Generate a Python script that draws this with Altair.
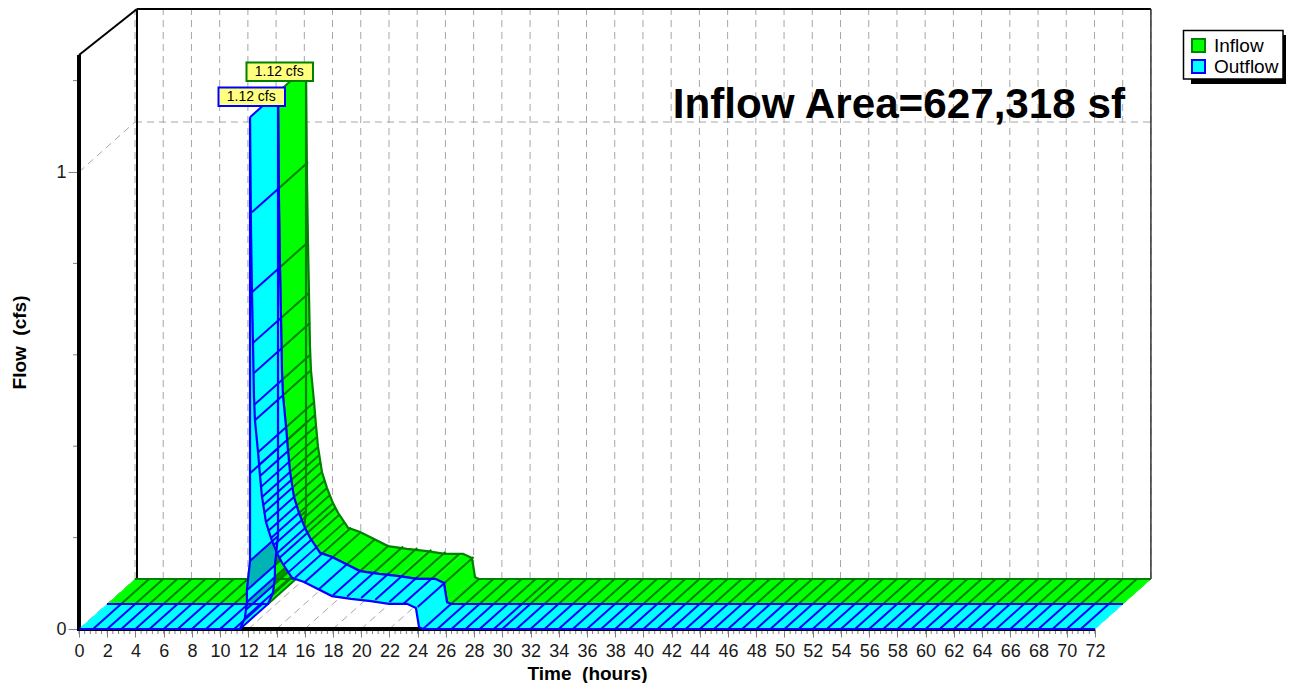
import altair as alt
import pandas as pd

FONT = "Liberation Sans"
PX_PER_HOUR = 14.11
PX_PER_CFS = 457.0
PLOT_W = 1072
PLOT_H = 621
DEPTH_T = 28 / PX_PER_HOUR
DEPTH_F = 25 / PX_PER_CFS
WALL_T = 58 / PX_PER_HOUR

# Hydrograph outline (inflow and outflow coincide)
flow_hours = [0, 11.41, 11.76, 11.83, 11.90, 11.90, 12.12, 12.12, 12.12,
              12.19, 12.26, 12.33, 12.40, 12.47, 12.69, 12.83, 12.97, 13.25,
              13.61, 14.03, 14.39, 15.10, 15.95, 17.93, 19.28, 20.69, 21.97,
              23.25, 23.88, 24.10, 24.38, 72]
flow_cfs = [0, 0, 0.024, 0.042, 0.059, 0.085, 0.149, 0.341, 1.12,
            0.873, 0.737, 0.626, 0.510, 0.457, 0.387, 0.335, 0.289, 0.234,
            0.199, 0.166, 0.145, 0.112, 0.103, 0.072, 0.066, 0.061, 0.055,
            0.055, 0.046, 0.004, 0, 0]
inflow_hours, inflow_cfs = flow_hours, flow_cfs
outflow_hours, outflow_cfs = flow_hours, flow_cfs

# Hatch stations along the ribbons
hatch_hours = [1, 2, 3, 4, 5, 6, 7, 8, 9, 10, 11, 11.41, 11.76, 11.83, 11.90,
               11.90, 12.12, 12.12, 12.12,
               12.26, 12.26, 12.33, 12.40, 12.40, 12.47, 12.69, 12.76, 12.83,
               12.90, 12.97, 13.04, 13.11, 13.25, 13.39, 13.61, 13.75, 14.03,
               14.17, 14.46, 14.88, 15.31, 15.95, 17, 18, 19, 20, 21, 22, 23,
               24, 24.38, 25.4, 26.4, 27.4, 28.4, 29.4, 30, 31, 32, 33, 34, 35,
               36, 37, 38, 39, 40, 41, 42, 43, 44, 45, 46, 47, 48, 49, 50, 51,
               52, 53, 54, 55, 56, 57, 58, 59, 60, 61, 62, 63, 64, 65, 66, 67,
               68, 69, 70, 71]
hatch_cfs = [0, 0, 0, 0, 0, 0, 0, 0, 0, 0, 0, 0, 0.024, 0.042, 0.059,
             0.085, 0.149, 0.341, 1.12,
             0.912, 0.737, 0.626, 0.560, 0.490, 0.457, 0.387, 0.359, 0.335,
             0.311, 0.289, 0.271, 0.254, 0.234, 0.214, 0.199, 0.182, 0.166,
             0.155, 0.140, 0.125, 0.112, 0.101, 0.087, 0.074, 0.071, 0.068,
             0.064, 0.059, 0.055, 0.048, 0, 0, 0, 0, 0, 0, 0, 0, 0, 0, 0, 0,
             0, 0, 0, 0, 0, 0, 0, 0, 0, 0, 0, 0, 0, 0, 0, 0, 0, 0, 0, 0, 0,
             0, 0, 0, 0, 0, 0, 0, 0, 0, 0, 0, 0, 0, 0, 0]

# Rising-limb facets that are drawn in a darker shade (index into the outline)
shaded_facets = [3, 5]

series_names = ["Inflow", "Outflow"]
fill_colors = ["#00FF00", "#00FFFF"]
shade_colors = ["#009A00", "#00B4B4"]
edge_colors = ["#008000", "#0000FF"]

time_ticks = list(range(0, 74, 2))
minor_ticks = [i * 0.4 for i in range(0, 181)]
flow_major = [0, 1]
flow_minor = [0.2, 0.4, 0.6, 0.8, 1.2]
peak_labels = ["1.12 cfs", "1.12 cfs"]
annotation = "Inflow Area=627,318 sf"


def X(field="x", axis=None):
    return alt.X(f"{field}:Q",
                 scale=alt.Scale(domain=[0, PLOT_W / PX_PER_HOUR], nice=False, zero=False),
                 axis=axis)


def Y(field="y", axis=None):
    return alt.Y(f"{field}:Q",
                 scale=alt.Scale(domain=[0, PLOT_H / PX_PER_CFS], nice=False, zero=False),
                 axis=axis)


def rules(rows, **mark):
    return alt.Chart(pd.DataFrame(rows)).mark_rule(**mark).encode(
        x=X(), x2="x2:Q", y=Y(), y2="y2:Q")


def ribbon(hours, cfs, hatch_t, hatch_f, d, k):
    """Fill facets, edges and hatch of a ribbon between depth d and d+1."""
    quads = []
    for i in range(len(hours) - 1):
        corners = [(hours[i], cfs[i], d), (hours[i + 1], cfs[i + 1], d),
                   (hours[i + 1], cfs[i + 1], d + 1), (hours[i], cfs[i], d + 1)]
        shade = shade_colors[k] if i in shaded_facets else fill_colors[k]
        for v, (t, f, dd) in enumerate(corners):
            quads.append({"x": t + dd * DEPTH_T, "y": f + dd * DEPTH_F,
                          "quad": i, "v": v, "shade": shade})
    fill = alt.Chart(pd.DataFrame(quads)).mark_line(strokeWidth=0.5, interpolate="linear").encode(
        x=X(), y=Y(), detail="quad:N", order="v:Q",
        fill=alt.Fill("shade:N", scale=None, legend=None),
        stroke=alt.Stroke("shade:N", scale=None, legend=None))
    edges = []
    for dd in (d, d + 1):
        for i, (t, f) in enumerate(zip(hours, cfs)):
            edges.append({"x": t + dd * DEPTH_T, "y": f + dd * DEPTH_F, "edge": dd, "i": i})
    edge = alt.Chart(pd.DataFrame(edges)).mark_line(
        color=edge_colors[k], strokeWidth=2.2).encode(
        x=X(), y=Y(), detail="edge:N", order="i:Q")
    hatch = rules([{"x": t + d * DEPTH_T, "y": f + d * DEPTH_F,
                    "x2": t + (d + 1) * DEPTH_T, "y2": f + (d + 1) * DEPTH_F}
                   for t, f in zip(hatch_t, hatch_f)],
                  color=edge_colors[k], strokeWidth=2)
    return [fill, edge, hatch]


GRID = dict(color="#A6A6A6", strokeWidth=1, strokeDash=[7, 5])
BASE_F = 2 * DEPTH_F
BASE_T = 2 * DEPTH_T
TOP_F = (PLOT_H - 1) / PX_PER_CFS

layers = []

# Marker hidden behind the front ribbon that carries the real legend
legend_df = pd.DataFrame({"series": series_names, "x": [31, 31], "y": [0.0273, 0.0273]})

# legend shadow and frame
def box(x0, x1, y0, y1, **kw):
    return alt.Chart(pd.DataFrame({"a": [0]})).mark_rect(**kw).encode(
        x=alt.value(x0 - 79), x2=alt.value(x1 - 79), y=alt.value(y0 - 8), y2=alt.value(y1 - 8))

layers.append(box(1191, 1286, 35, 84, color="#000000"))
layers.append(box(1183.5, 1283, 30.5, 79, fill="#FFFFFF", stroke="#000000", strokeWidth=1.5))

# back wall grid
layers.append(rules([{"x": t + BASE_T, "y": BASE_F, "x2": t + BASE_T, "y2": TOP_F} for t in time_ticks], **GRID))
layers.append(rules([{"x": t, "y": 0, "x2": t + BASE_T, "y2": BASE_F} for t in time_ticks], **GRID))
layers.append(rules([{"x": BASE_T, "y": 1 + BASE_F, "x2": 72 + BASE_T, "y2": 1 + BASE_F},
                     {"x": 0, "y": 1, "x2": BASE_T, "y2": 1 + BASE_F}], **GRID))
# walls
layers.append(rules([{"x": WALL_T, "y": BASE_F, "x2": WALL_T, "y2": TOP_F},
                     {"x": WALL_T, "y": TOP_F, "x2": 72 + BASE_T, "y2": TOP_F},
                     {"x": 0, "y": 1.256, "x2": WALL_T, "y2": TOP_F}],
                    color="#000000", strokeWidth=2))
layers.append(rules([{"x": 72 + BASE_T, "y": BASE_F, "x2": 72 + BASE_T, "y2": TOP_F}],
                    color="#333333", strokeWidth=1.5))
# minor ticks
layers.append(rules([{"x": t, "y": 0, "x2": t, "y2": -5 / PX_PER_CFS} for t in minor_ticks],
                    color="#808080", strokeWidth=1))
layers.append(rules([{"x": -6 / PX_PER_HOUR, "y": f, "x2": 0, "y2": f} for f in flow_minor],
                    color="#808080", strokeWidth=1))

# axes and thick front frame
x_axis = alt.Axis(values=time_ticks, title="Time\u00a0\u00a0(hours)", domain=False, grid=False,
                  labelFont=FONT, labelFontSize=18, labelColor="#1A1A1A", labelPadding=5,
                  labelOverlap=False, labelFlush=False, labelAngle=0, format="d",
                  tickColor="#808080", tickSize=8, tickWidth=1,
                  titleFont=FONT, titleFontSize=19, titleFontWeight="bold", titleColor="#000000",
                  titleX=508, titleY=44, titleAlign="center", titleBaseline="middle")
y_axis = alt.Axis(values=flow_major, title="Flow\u00a0\u00a0(cfs)", domain=False, grid=False,
                  labelFont=FONT, labelFontSize=18, labelColor="#1A1A1A", labelPadding=2, format="d",
                  tickColor="#808080", tickSize=11, tickWidth=1,
                  titleFont=FONT, titleFontSize=19, titleFontWeight="bold", titleColor="#000000",
                  titleX=-60, titleY=334, titleAngle=-90, titleAlign="center", titleBaseline="middle")
frame_df = pd.DataFrame({"x": [0, 0, 72], "y": [1.256, 0, 0], "i": [0, 1, 2]})
layers.append(alt.Chart(frame_df).mark_line(color="#000000", strokeWidth=4).encode(
    x=X(axis=x_axis), y=Y(axis=y_axis), order="i:Q"))

# legend carrier
legend_kw = dict(title=None, orient="none", legendX=1110, legendY=28,
                 symbolType="square", symbolSize=169, symbolStrokeWidth=2,
                 labelFont=FONT, labelFontSize=19, labelColor="#000000",
                 rowPadding=0, padding=0, labelOffset=6, labelLimit=200, symbolOpacity=1)
layers.append(alt.Chart(legend_df).mark_square(filled=True, size=100, strokeWidth=1, opacity=1).encode(
    x=X(), y=Y(),
    fill=alt.Fill("series:N", scale=alt.Scale(domain=series_names, range=fill_colors),
                  legend=alt.Legend(**legend_kw)),
    stroke=alt.Stroke("series:N", scale=alt.Scale(domain=series_names, range=edge_colors),
                      legend=alt.Legend(**legend_kw))))

# ribbons, back first
layers += ribbon(inflow_hours, inflow_cfs, hatch_hours, hatch_cfs, 1, 0)
layers += ribbon(outflow_hours, outflow_cfs, hatch_hours, hatch_cfs, 0, 1)

# peak labels
for (x0, x1, y0, y1), color, text in zip(
        [(246.5, 313, 62.5, 81), (218.5, 285, 87.5, 106)], edge_colors, peak_labels):
    layers.append(box(x0, x1, y0, y1, fill="#FFFF80", stroke=color, strokeWidth=2))
    layers.append(alt.Chart(pd.DataFrame({"t": [text]})).mark_text(
        font=FONT, fontSize=14, color="#000000", align="center", baseline="middle").encode(
        x=alt.value((x0 + x1) / 2 - 79.5), y=alt.value((y0 + y1) / 2 - 8), text="t:N"))

# area annotation
layers.append(alt.Chart(pd.DataFrame({"t": [annotation]})).mark_text(
    font=FONT, fontSize=42.2, fontWeight="bold", color="#000000", align="right", baseline="middle").encode(
    x=alt.value(1125 - 79), y=alt.value(104.5 - 8), text="t:N"))

chart = alt.layer(*layers).resolve_scale(
    fill="independent", stroke="independent"
).resolve_axis(x="independent", y="independent").properties(
    width=PLOT_W, height=PLOT_H,
    padding={"left": 71, "top": 0, "right": 135, "bottom": 54},
    autosize=alt.AutoSizeParams(type="none"),
).configure_view(stroke=None)

chart.save("out.html", embed_options={"renderer": "svg", "actions": False})
